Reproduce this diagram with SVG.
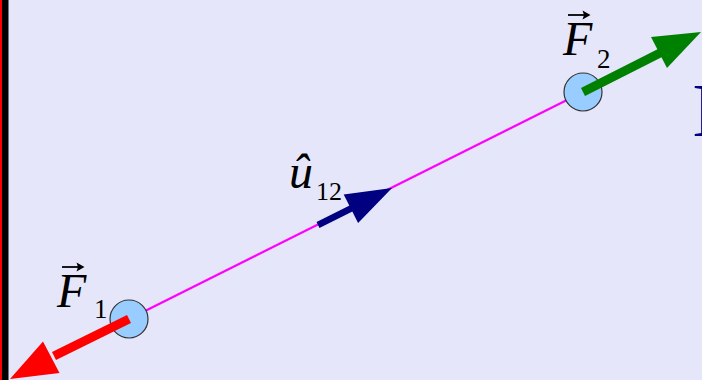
<svg xmlns="http://www.w3.org/2000/svg" width="702" height="380" viewBox="0 0 702 380">
<defs>
<style>
.node{fill:#99ccff;stroke:#333;stroke-width:1.2}
.vec{stroke:#000;stroke-width:1.8;fill:none}
</style>
</defs>
<rect x="0" y="0" width="702" height="380" fill="#e6e6fa"/>
<rect x="0" y="0" width="2" height="380" fill="#ff0000"/>
<rect x="2" y="0" width="6.5" height="380" fill="#000"/>
<text x="692" y="136" font-family="'Liberation Serif', serif" font-size="76" fill="#000080">I</text>
<g id="connectors">
<line x1="129" y1="319" x2="583" y2="92" stroke="#ff00ff" stroke-width="2.2"/>
<polygon points="701,32 667,68 651,37" fill="#008000"/>
<polygon points="10,379 59.5,373 43,341.5" fill="#ff0000"/>
<line x1="318" y1="225" x2="352" y2="208" stroke="#000080" stroke-width="6.5"/>
<polygon points="392,188 358.1,223 343.7,194.4" fill="#000080"/>
</g>
<g id="F1">
<circle class="node" cx="129" cy="319" r="19"/>
</g>
<g id="F2">
<circle class="node" cx="583" cy="92" r="19"/>
</g>
<g id="connectors-over">
<line x1="129" y1="319" x2="54" y2="356" stroke="#ff0000" stroke-width="9"/>
<line x1="583" y1="92" x2="662" y2="52" stroke="#008000" stroke-width="9"/>
</g>
<g id="label-F1">
<text x="57" y="307" font-family="'Liberation Serif', serif" font-style="italic" font-size="48" fill="#000">F</text>
<path class="vec" d="M62,267 H81"/>
<path d="M84.5,267 L76.5,262.5 L78,267 L76.5,271.5 Z" fill="#000"/>
<text x="94" y="318" font-family="'Liberation Serif', serif" font-size="27" fill="#000">1</text>
</g>
<g id="label-F2">
<text x="563" y="55" font-family="'Liberation Serif', serif" font-style="italic" font-size="48" fill="#000">F</text>
<path class="vec" d="M568,15 H587"/>
<path d="M590.5,15 L582.5,10.5 L584,15 L582.5,19.5 Z" fill="#000"/>
<text x="597" y="68" font-family="'Liberation Serif', serif" font-size="27" fill="#000">2</text>
</g>
<g id="label-u12">
<text x="289" y="188" font-family="'Liberation Serif', serif" font-style="italic" font-size="48" fill="#000">û</text>
<text x="316" y="200" font-family="'Liberation Serif', serif" font-size="26" fill="#000">12</text>
</g>
</svg>
